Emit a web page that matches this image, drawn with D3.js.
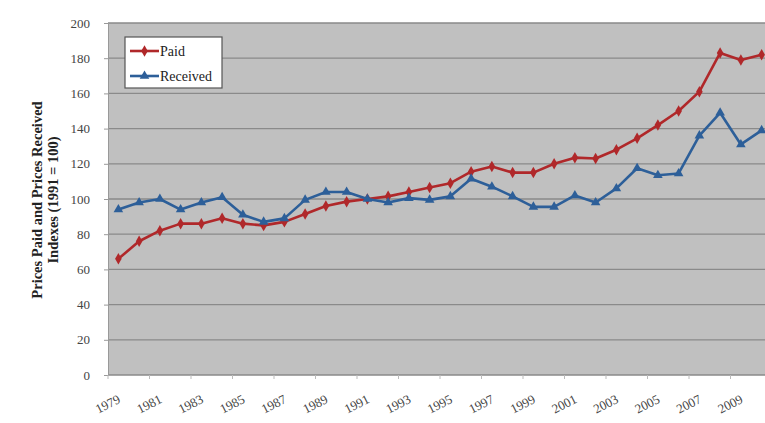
<!DOCTYPE html>
<html><head><meta charset="utf-8">
<script src="https://cdn.jsdelivr.net/npm/d3@7"></script>
<style>html,body{margin:0;padding:0;background:#fff;overflow:hidden}</style>
</head><body><svg id="c" width="765" height="423"></svg>
<script>
const years = d3.range(1979, 2011);
const paid = [66,76,82,86,86,89,86,85,87,91.5,96,98.5,100,101.5,104,106.5,109,115.5,118.5,115,115,120,123.5,123,128,134.5,142,150,161,183,179,182];
const received = [94,98,100,94,98,101,91,87,89,99.5,104,104,100,98,100.5,99.5,101.5,111.5,107,101.5,95.5,95.5,102,98,106,117.5,113.5,114.5,136,149,131,139];
const yTicks = [0,20,40,60,80,100,120,140,160,180,200];
const xLabelYears = years.filter(v => (v - 1979) % 2 === 0);

const svg = d3.select("#c");
const pLeft = 108, pTop = 23, pBottom = 375, step = 20.75;
const pRight = pLeft + step * years.length;
const x = d3.scaleBand().domain(years).range([pLeft, pRight]).paddingInner(0).paddingOuter(0);
const y = d3.scaleLinear().domain([0, 200]).range([pBottom, pTop]);

svg.append("rect").attr("x", pLeft).attr("y", pTop).attr("width", pRight - pLeft).attr("height", pBottom - pTop).attr("fill", "#c0c0c0");

svg.append("g").selectAll("line").data(yTicks).join("line")
  .attr("x1", pLeft).attr("x2", pRight).attr("y1", d => y(d)).attr("y2", d => y(d))
  .attr("stroke", "#8a8a8a").attr("stroke-width", 1.3);

// y axis
const yAxis = d3.axisLeft(y).tickValues(yTicks).tickSize(4).tickPadding(14);
const gy = svg.append("g").attr("transform", `translate(${pLeft},0)`).call(yAxis);
gy.select(".domain").attr("stroke", "#999");
gy.selectAll(".tick line").attr("stroke", "#999");
gy.selectAll("text").attr("font-family", "Liberation Serif").attr("font-size", 13).attr("fill", "#444");

// x axis
const xAxis = d3.axisBottom(x).tickValues(xLabelYears).tickSize(0).tickPadding(0);
const gx = svg.append("g").attr("transform", `translate(0,${pBottom})`).call(xAxis);
gx.select(".domain").remove();
gx.selectAll("text").attr("font-family", "Liberation Serif").attr("font-size", 13).attr("fill", "#444")
  .attr("text-anchor", "end").attr("dy", 0).attr("transform", "translate(3,27) rotate(-27)");
// tick marks at category boundaries every 2
svg.append("g").selectAll("line").data(xLabelYears).join("line")
  .attr("x1", d => x(d)).attr("x2", d => x(d)).attr("y1", pBottom).attr("y2", pBottom + 4)
  .attr("stroke", "#bbb");

const cx = d => x(d) + x.bandwidth() / 2;
const line = d3.line().x((d, i) => cx(years[i])).y(d => y(d));

const series = [
  {name: "Paid", vals: paid, color: "#b0282a", marker: d3.symbolDiamond, size: 38},
  {name: "Received", vals: received, color: "#2d5f99", marker: d3.symbolTriangle, size: 40}
];
series.forEach(s => {
  svg.append("path").datum(s.vals).attr("d", line).attr("fill", "none")
    .attr("stroke", s.color).attr("stroke-width", 2.6).attr("stroke-linejoin", "round");
  svg.append("g").selectAll("path").data(s.vals).join("path")
    .attr("d", d3.symbol().type(s.marker).size(s.size))
    .attr("transform", (d, i) => `translate(${cx(years[i])},${y(d)})`)
    .attr("fill", s.color);
});

// legend
const lg = svg.append("g");
lg.append("rect").attr("x", 125).attr("y", 37).attr("width", 97).attr("height", 51)
  .attr("fill", "#fff").attr("stroke", "#555").attr("stroke-width", 1.2);
series.forEach((s, i) => {
  const ly = 51 + i * 25;
  lg.append("line").attr("x1", 130).attr("x2", 159).attr("y1", ly).attr("y2", ly)
    .attr("stroke", s.color).attr("stroke-width", 2.6);
  lg.append("path").attr("d", d3.symbol().type(s.marker).size(s.size)).attr("transform", `translate(144.5,${ly})`).attr("fill", s.color);
  lg.append("text").attr("x", 160).attr("y", ly + 4.5).text(s.name)
    .attr("font-family", "Liberation Serif").attr("font-size", 14).attr("fill", "#222");
});

// y axis title
const t = svg.append("text").attr("transform", "translate(45,200) rotate(-90)")
  .attr("text-anchor", "middle").attr("font-family", "Liberation Serif").attr("font-weight", "bold")
  .attr("font-size", 14.5).attr("fill", "#222");
t.append("tspan").attr("x", 0).attr("dy", -3).text("Prices Paid and Prices Received");
t.append("tspan").attr("x", 0).attr("dy", 16).text("Indexes (1991 = 100)");
</script></body></html>
